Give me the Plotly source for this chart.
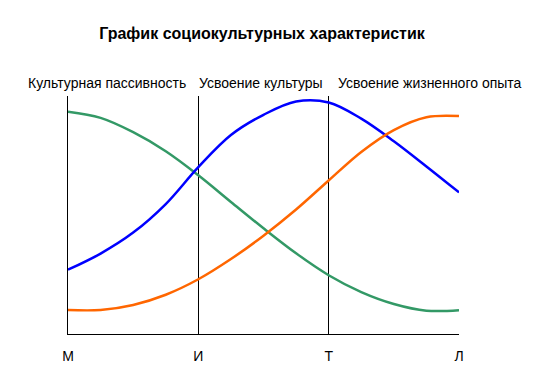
import plotly.graph_objects as go

stages = ["М", "И", "Т", "Л"]
stage_pos = [0, 1, 2, 3]
phases = ["Культурная пассивность", "Усвоение культуры", "Усвоение жизненного опыта"]
phase_pos = [0.30, 1.48, 2.78]

x = [0, 0.25, 0.5, 0.75, 1.0, 1.25, 1.5, 1.75, 2.0, 2.25, 2.5, 2.75, 3.0]
green = [93.4, 90.8, 84.8, 76.8, 66.7, 55.5, 44.4, 33.9, 24.7, 17.6, 12.6, 9.8, 10.0]
blue = [27.0, 33.8, 42.6, 54.6, 70.1, 83.6, 92.1, 97.7, 97.3, 90.5, 81.0, 70.4, 59.5]
orange = [10.1, 10.1, 12.2, 16.5, 23.0, 31.5, 41.3, 52.3, 64.5, 76.5, 85.7, 91.1, 91.6]

W, H = 552, 388
left, right, top, bot = 68, 459, 96, 334

fig = go.Figure()
for ys, col in [(green, "#339966"), (blue, "#0000FF"), (orange, "#FF6600")]:
    fig.add_trace(go.Scatter(x=x, y=ys, mode="lines",
                             line=dict(color=col, width=2.5, shape="spline", smoothing=1.0),
                             showlegend=False, hoverinfo="skip"))

for p, t in zip(phase_pos, phases):
    fig.add_annotation(x=p, y=1 + (top - 83) / (bot - top), xref="x", yref="paper",
                       yanchor="middle", text=t, showarrow=False,
                       font=dict(family="Liberation Sans, Arial", size=14, color="black"))

fig.update_layout(
    width=W, height=H,
    margin=dict(l=left, r=W - right, t=top, b=H - bot),
    paper_bgcolor="white", plot_bgcolor="white",
    title=dict(text="<b>График социокультурных характеристик</b>",
               x=262 / W, xanchor="center", y=1 - 33 / H, yanchor="middle",
               font=dict(family="Liberation Sans, Arial", size=16, color="black")),
    xaxis=dict(range=[0, 3], tickvals=stage_pos, ticktext=stages,
               showgrid=True, gridcolor="black", gridwidth=1,
               showline=True, linecolor="black", linewidth=1,
               ticks="outside", ticklen=9, tickcolor="rgba(0,0,0,0)",
               tickfont=dict(family="Liberation Sans, Arial", size=14, color="black"),
               zeroline=False, fixedrange=True),
    yaxis=dict(range=[0, 100], showgrid=False, showticklabels=False, ticks="",
               showline=True, linecolor="black", linewidth=1, zeroline=False,
               fixedrange=True),
)
fig.write_html("out.html")
